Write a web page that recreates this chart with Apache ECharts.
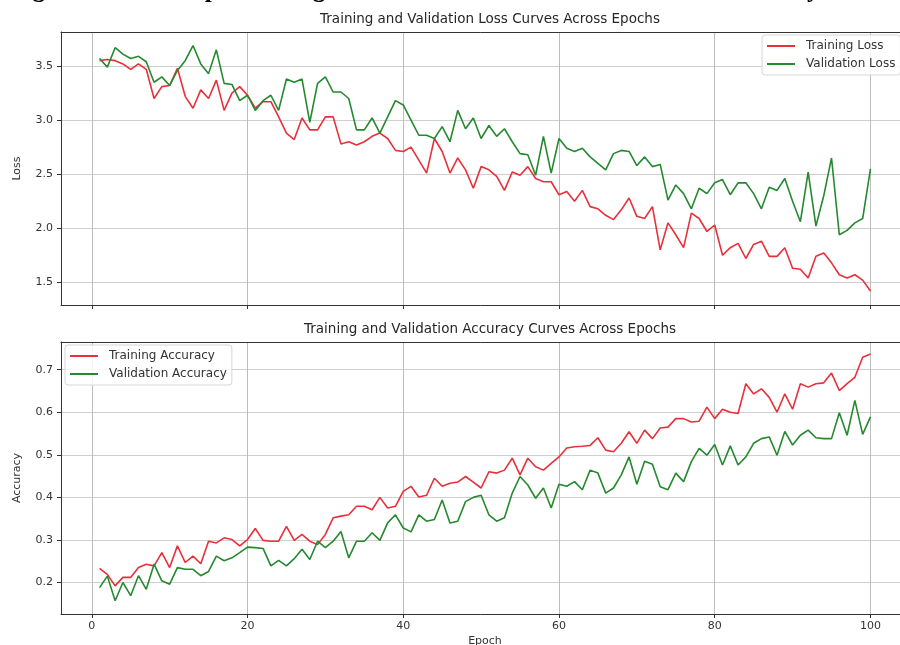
<!DOCTYPE html>
<html>
<head>
<meta charset="utf-8">
<title>Training and Validation Curves</title>
<script src="https://cdn.jsdelivr.net/npm/echarts@6/dist/echarts.min.js"></script>
<style>
html, body { margin: 0; padding: 0; background: #fff; overflow: hidden; }
#chart { width: 900px; height: 645px; }
</style>
</head>
<body>
<div id="chart"></div>
<script>
// values, epochs 1..100
let trainLoss = [
	3.55, 3.56, 3.55, 3.52, 3.47, 3.52, 3.47, 3.20, 3.31, 3.32,
	3.48, 3.22, 3.11, 3.28, 3.20, 3.37, 3.09, 3.25, 3.31, 3.23,
	3.11, 3.17, 3.17, 3.03, 2.88, 2.82, 3.02, 2.91, 2.91, 3.03,
	3.03, 2.78, 2.80, 2.77, 2.80, 2.85, 2.88, 2.83, 2.72, 2.71,
	2.75, 2.63, 2.51, 2.83, 2.71, 2.51, 2.65, 2.54, 2.37, 2.57,
	2.54, 2.48, 2.35, 2.52, 2.49, 2.57, 2.46, 2.43, 2.43, 2.31,
	2.34, 2.25, 2.35, 2.20, 2.18, 2.12, 2.08, 2.17, 2.28, 2.11,
	2.09, 2.20, 1.80, 2.05, 1.94, 1.82, 2.14, 2.09, 1.97, 2.03,
	1.75, 1.82, 1.86, 1.72, 1.85, 1.88, 1.74, 1.74, 1.82, 1.63,
	1.62, 1.54, 1.74, 1.77, 1.68, 1.57, 1.54, 1.57, 1.52, 1.42
];
let valLoss = [
	3.57, 3.49, 3.67, 3.61, 3.57, 3.59, 3.54, 3.35, 3.40, 3.32,
	3.46, 3.55, 3.69, 3.52, 3.43, 3.65, 3.34, 3.33, 3.18, 3.23,
	3.09, 3.18, 3.23, 3.09, 3.38, 3.35, 3.38, 2.98, 3.34, 3.40,
	3.26, 3.26, 3.20, 2.91, 2.91, 3.02, 2.88, 3.03, 3.18, 3.14,
	3.00, 2.86, 2.86, 2.83, 2.94, 2.80, 3.09, 2.92, 3.02, 2.83,
	2.95, 2.85, 2.92, 2.80, 2.69, 2.68, 2.49, 2.85, 2.51, 2.83,
	2.74, 2.71, 2.74, 2.66, 2.60, 2.54, 2.69, 2.72, 2.71, 2.58,
	2.66, 2.57, 2.59, 2.26, 2.40, 2.32, 2.18, 2.37, 2.32, 2.42,
	2.45, 2.31, 2.42, 2.42, 2.32, 2.18, 2.38, 2.35, 2.46, 2.25,
	2.06, 2.52, 2.02, 2.30, 2.65, 1.94, 1.98, 2.05, 2.09, 2.55
];
let trainAcc = [
	0.233, 0.219, 0.192, 0.212, 0.212, 0.235, 0.243, 0.239, 0.270, 0.235,
	0.286, 0.247, 0.262, 0.244, 0.297, 0.293, 0.305, 0.301, 0.286, 0.301,
	0.327, 0.299, 0.297, 0.297, 0.332, 0.299, 0.313, 0.297, 0.289, 0.313,
	0.352, 0.356, 0.359, 0.379, 0.379, 0.371, 0.400, 0.375, 0.379, 0.414,
	0.426, 0.401, 0.405, 0.445, 0.426, 0.433, 0.436, 0.449, 0.436, 0.422,
	0.460, 0.457, 0.464, 0.492, 0.453, 0.492, 0.472, 0.464, 0.480, 0.495,
	0.516, 0.519, 0.520, 0.522, 0.540, 0.511, 0.507, 0.527, 0.554, 0.527,
	0.558, 0.538, 0.563, 0.565, 0.585, 0.585, 0.577, 0.579, 0.612, 0.585,
	0.607, 0.600, 0.597, 0.667, 0.643, 0.655, 0.635, 0.600, 0.643, 0.607,
	0.667, 0.659, 0.667, 0.669, 0.692, 0.651, 0.667, 0.682, 0.729, 0.737
];
let valAcc = [
	0.188, 0.215, 0.157, 0.200, 0.169, 0.216, 0.184, 0.243, 0.204, 0.196,
	0.235, 0.231, 0.231, 0.216, 0.226, 0.262, 0.251, 0.258, 0.270, 0.283,
	0.282, 0.280, 0.239, 0.252, 0.239, 0.256, 0.278, 0.254, 0.297, 0.282,
	0.297, 0.320, 0.258, 0.297, 0.297, 0.317, 0.299, 0.340, 0.359, 0.328,
	0.319, 0.359, 0.344, 0.348, 0.394, 0.340, 0.344, 0.390, 0.400, 0.405,
	0.359, 0.344, 0.352, 0.410, 0.449, 0.429, 0.398, 0.422, 0.375, 0.431,
	0.426, 0.437, 0.418, 0.464, 0.457, 0.410, 0.422, 0.453, 0.495, 0.431,
	0.485, 0.478, 0.425, 0.418, 0.457, 0.437, 0.484, 0.515, 0.499, 0.524,
	0.476, 0.521, 0.476, 0.495, 0.527, 0.538, 0.542, 0.499, 0.555, 0.523,
	0.546, 0.558, 0.540, 0.538, 0.538, 0.599, 0.546, 0.628, 0.548, 0.589
];
let epochTicks = [0, 20, 40, 60, 80, 100];
let lossTicks = [1.5, 2.0, 2.5, 3.0, 3.5];
let accTicks = [0.2, 0.3, 0.4, 0.5, 0.6, 0.7];

let font = "'DejaVu Sans', sans-serif";
let red = '#e8303a';
let green = '#24892f';
let spine = { show: true, onZero: false, lineStyle: { color: '#333', width: 1 } };

function xAxisOf(gi, showLabel){
	return {
		type: 'value',
		gridIndex: gi,
		min: -3.95,
		max: 104.95,
		axisLine: spine,
		axisTick: { show: true, length: 4, customValues: epochTicks, lineStyle: { color: '#333' } },
		axisLabel: {
			show: showLabel,
			customValues: epochTicks,
			margin: 7,
			fontSize: 11,
			color: '#333',
			fontFamily: font
		},
		splitLine: { show: true, lineStyle: { color: '#bdbdbd', width: 1 } },
		name: showLabel ? 'Epoch' : '',
		nameLocation: 'middle',
		nameGap: 22,
		nameTextStyle: { fontSize: 11, color: '#333', fontFamily: font }
	};
}

// top edge of each box: only the line
function topAxisOf(gi){
	return {
		type: 'value',
		gridIndex: gi,
		position: 'top',
		min: -3.95,
		max: 104.95,
		axisLine: spine,
		axisTick: { show: false },
		axisLabel: { show: false },
		splitLine: { show: false }
	};
}

function yAxisOf(gi, name, min, max, ticks){
	return {
		type: 'value',
		gridIndex: gi,
		position: 'left',
		min: min,
		max: max,
		axisLine: spine,
		axisTick: { show: true, length: 4, customValues: ticks, lineStyle: { color: '#333' } },
		axisLabel: {
			customValues: ticks,
			margin: 8,
			fontSize: 11,
			color: '#333',
			fontFamily: font,
			formatter: function(v) { return v.toFixed(1); }
		},
		splitLine: { show: true, lineStyle: { color: '#cfcfcf', width: 1 } },
		name: name,
		nameLocation: 'middle',
		nameGap: 38,
		nameRotate: 90,
		nameTextStyle: { fontSize: 11, color: '#333', fontFamily: font }
	};
}

function lineOf(name, values, color, gi){
	let data = [];
	values.forEach((v, i) => {
		data.push([i + 1, v]);
	});
	return {
		name: name,
		type: 'line',
		xAxisIndex: gi,
		yAxisIndex: gi,
		symbol: 'none',
		color: color,
		lineStyle: { color: color, width: 1.6 },
		data: data
	};
}

function legendOf(names, left, top){
	return {
		data: names,
		orient: 'vertical',
		left: left,
		top: top,
		icon: 'rect',
		itemWidth: 28,
		itemHeight: 2,
		itemGap: 6,
		padding: [5, 5, 5, 5],
		backgroundColor: 'rgba(255,255,255,0.85)',
		borderColor: '#d6d6d6',
		borderWidth: 1,
		borderRadius: 3,
		textStyle: { fontSize: 12, color: '#333', fontFamily: font, padding: [0, 0, 0, 6] }
	};
}

function gridOf(top, height){
	return {
		left: 61,
		top: top,
		width: 848,
		height: height,
		outerBoundsMode: 'none',
		containLabel: false,
		show: false
	};
}

function initCurves(){
	let myChart = echarts.init(document.getElementById('chart'));

	let option = {
		animation: false,
		backgroundColor: '#fff',
		title: [{
			text: 'Training and Validation Loss Curves Across Epochs',
			left: 485,
			top: 7,
			textAlign: 'center',
			textStyle: { fontSize: 13.5, fontWeight: 'normal', color: '#262626', fontFamily: font }
		}, {
			text: 'Training and Validation Accuracy Curves Across Epochs',
			left: 485,
			top: 317,
			textAlign: 'center',
			textStyle: { fontSize: 13.5, fontWeight: 'normal', color: '#262626', fontFamily: font }
		}],
		graphic: [{
			// caption line of the page, mostly above the picture
			type: 'text',
			left: 10,
			top: -22,
			silent: true,
			style: {
				text: 'Figure 6: The Deep Learning Model Loss and Validation Dataset Accuracy',
				font: "bold 25.4px 'Liberation Serif', serif",
				fill: '#000'
			}
		}],
		legend: [
			legendOf(['Training Loss', 'Validation Loss'], 762, 35),
			legendOf(['Training Accuracy', 'Validation Accuracy'], 65, 345)
		],
		grid: [gridOf(32, 273), gridOf(342, 272)],
		xAxis: [xAxisOf(0, false), xAxisOf(1, true), topAxisOf(0), topAxisOf(1)],
		yAxis: [
			yAxisOf(0, 'Loss', 1.29, 3.815, lossTicks),
			yAxisOf(1, 'Accuracy', 0.126, 0.765, accTicks)
		],
		series: [
			lineOf('Training Loss', trainLoss, red, 0),
			lineOf('Validation Loss', valLoss, green, 0),
			lineOf('Training Accuracy', trainAcc, red, 1),
			lineOf('Validation Accuracy', valAcc, green, 1)
		]
	};

	myChart.setOption(option);
	return myChart;
}

initCurves();
</script>
</body>
</html>
